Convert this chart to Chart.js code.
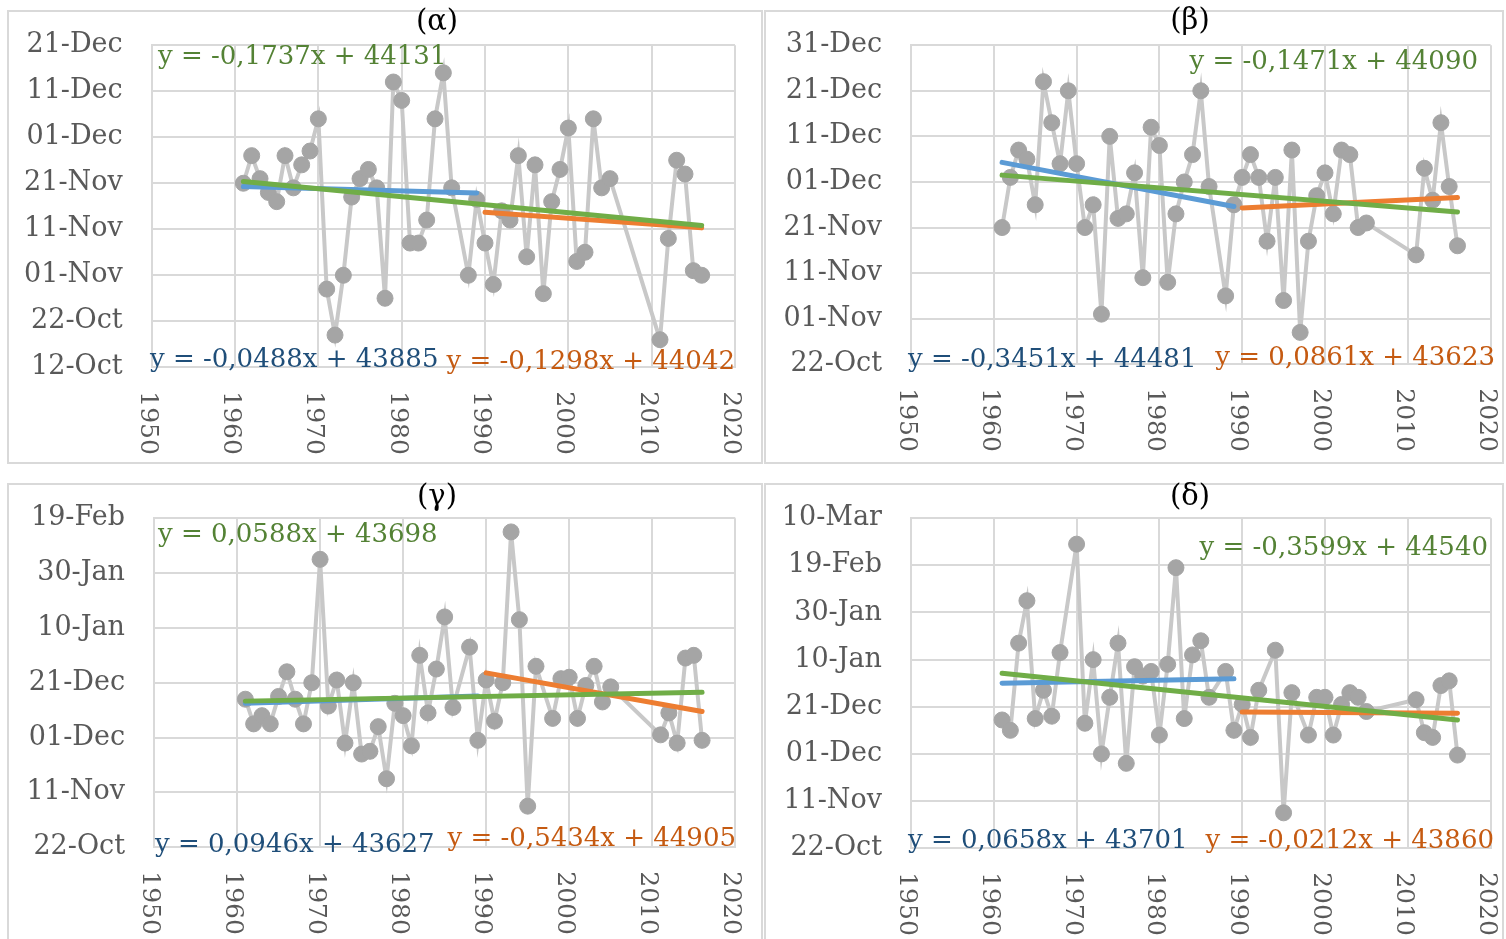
<!DOCTYPE html>
<html><head><meta charset="utf-8">
<script src="https://cdn.jsdelivr.net/npm/chart.js@4.4.1/dist/chart.umd.min.js"></script>
<style>
html,body{margin:0;padding:0;background:#fff;}
#page{position:relative;width:1506px;height:939px;overflow:hidden;background:#fff;}
.box{position:absolute;border:2px solid #d9d9d9;box-sizing:border-box;}
canvas{position:absolute;}
</style></head><body>
<div id="page">
 <div class="box" style="left:7px;top:10px;width:756px;height:454px"></div>
 <div class="box" style="left:764px;top:10px;width:740px;height:454px"></div>
 <div class="box" style="left:7px;top:483px;width:756px;height:470px"></div>
 <div class="box" style="left:764px;top:483px;width:740px;height:470px"></div>
 <canvas id="cA" width="754" height="463" style="left:8px;top:0px"></canvas>
 <canvas id="cB" width="738" height="463" style="left:765px;top:0px"></canvas>
 <canvas id="cC" width="754" height="466" style="left:8px;top:473px"></canvas>
 <canvas id="cD" width="738" height="466" style="left:765px;top:473px"></canvas>
</div>
<script>
// ---------- data ----------
const xTickLabels = ['1950','1960','1970','1980','1990','2000','2010','2020'];

const alphaYTicks = ['12-Oct','22-Oct','01-Nov','11-Nov','21-Nov','01-Dec','11-Dec','21-Dec'];
const betaYTicks  = ['22-Oct','01-Nov','11-Nov','21-Nov','01-Dec','11-Dec','21-Dec','31-Dec'];
const gammaYTicks = ['22-Oct','11-Nov','01-Dec','21-Dec','10-Jan','30-Jan','19-Feb'];
const deltaYTicks = ['22-Oct','11-Nov','01-Dec','21-Dec','10-Jan','30-Jan','19-Feb','10-Mar'];

const alphaYears = [1961,1962,1963,1964,1965,1966,1967,1968,1969,1970,1971,1972,1973,1974,1975,1976,1977,1978,1979,1980,1981,1982,1983,1984,1985,1986,1988,1989,1990,1991,1992,1993,1994,1995,1996,1997,1998,1999,2000,2001,2002,2003,2004,2005,2011,2012,2013,2014,2015,2016];
const alphaValues = [43790,43796,43791,43788,43786,43796,43789,43794,43797,43804,43767,43757,43770,43787,43791,43793,43789,43765,43812,43808,43777,43777,43782,43804,43814,43789,43770,43786.5,43777,43768,43784,43782,43796,43774,43794,43766,43786,43793,43802,43773,43775,43804,43789,43791,43756,43778,43795,43792,43771,43770];

const betaYears = [1961,1962,1963,1964,1965,1966,1967,1968,1969,1970,1971,1972,1973,1974,1975,1976,1977,1978,1979,1980,1981,1982,1983,1984,1985,1986,1988,1989,1990,1991,1992,1993,1994,1995,1996,1997,1998,1999,2000,2001,2002,2003,2004,2005,2011,2012,2013,2014,2015,2016];
const betaValues = [43790,43801,43807,43805,43795,43822,43813,43804,43820,43804,43790,43795,43771,43810,43792,43793,43802,43779,43812,43808,43778,43793,43800,43806,43820,43799,43775,43795,43801,43806,43801,43787,43801,43774,43807,43767,43787,43797,43802,43793,43807,43806,43790,43791,43784,43803,43796,43813,43799,43786];

const gammaYears = [1961,1962,1963,1964,1965,1966,1967,1968,1969,1970,1971,1972,1973,1974,1975,1976,1977,1978,1979,1980,1981,1982,1983,1984,1985,1986,1988,1989,1990,1991,1992,1993,1994,1995,1996,1998,1999,2000,2001,2002,2003,2004,2005,2011,2012,2013,2014,2015,2016];
const gammaValues = [43814,43805,43808,43805,43815,43824,43814,43805,43820,43865,43811.5,43821,43798,43820,43794,43795,43804,43785,43812.5,43808,43797,43830,43809,43825,43844,43811,43833,43799,43821,43806,43820,43875,43843,43775,43826,43807,43821.5,43822,43807,43819,43826,43813,43818.5,43801,43809,43798,43829,43830,43799];

const deltaYears = [1961,1962,1963,1964,1965,1966,1967,1968,1970,1971,1972,1973,1974,1975,1976,1977,1978,1979,1980,1981,1982,1983,1984,1985,1986,1988,1989,1990,1991,1992,1994,1995,1996,1998,1999,2000,2001,2002,2003,2004,2005,2011,2012,2013,2014,2015,2016];
const deltaValues = [43814.4,43810,43847,43865,43815,43827,43816,43843,43889,43813,43840,43800,43824,43847,43796,43837,43833,43835,43808,43838,43879,43815,43842,43848,43824,43835,43810,43821,43807,43827,43844,43775,43826,43808,43824,43824,43808,43821,43826,43824,43818,43823,43809,43807,43829,43831,43799.5];

// trend line end points (years and values, read from the trend equations shown)
const trendEarlyYears = [1961, 1989];
const trendLateYears  = [1990, 2016];
const trendAllYears   = [1961, 2016];
const alphaTrendEarly = [43789.3, 43787.9];
const alphaTrendLate  = [43783.7, 43780.3];
const alphaTrendAll   = [43790.4, 43780.8];
const betaTrendEarly  = [43804.3, 43794.6];
const betaTrendLate   = [43794.3, 43796.6];
const betaTrendAll    = [43801.5, 43793.4];
const gammaTrendEarly = [43812.5, 43815.2];
const gammaTrendLate  = [43823.6, 43809.5];
const gammaTrendAll   = [43813.3, 43816.5];
const deltaTrendEarly = [43830.0, 43831.9];
const deltaTrendLate  = [43817.8, 43817.3];
const deltaTrendAll   = [43834.2, 43814.4];

// ---------- styles ----------
const FONT = '"DejaVu Serif"';
const GRID = '#d9d9d9';
const C_GREEN = '#70ad47', C_BLUE = '#5b9bd5', C_ORANGE = '#ed7d31';
const T_GREEN = '#548235', T_BLUE = '#1f4e79', T_ORANGE = '#c55a11';

const pairs = (xs, ys) => xs.map((x, i) => ({x: x, y: ys[i]}));

function makeTextPlugin(o) {
  return {
    id: 'panelText',
    afterDraw(chart) {
      const ctx = chart.ctx;
      const xs = chart.scales.x;
      ctx.save();
      ctx.font = '25px ' + FONT;
      ctx.fillStyle = '#595959';
      ctx.textAlign = 'left';
      ctx.textBaseline = 'alphabetic';
      xs.ticks.forEach((t, i) => {
        const px = xs.getPixelForValue(t.value);
        ctx.save();
        ctx.translate(px - 11, chart.chartArea.bottom + 24);
        ctx.rotate(Math.PI / 2);
        ctx.fillText(xTickLabels[i], 0, 0);
        ctx.restore();
      });
      ctx.font = '29px ' + FONT;
      ctx.fillStyle = '#000';
      ctx.textAlign = 'center';
      ctx.textBaseline = 'middle';
      ctx.fillText(o.title, o.titleX, o.titleY);
      ctx.font = '26px ' + FONT;
      ctx.textBaseline = 'alphabetic';
      o.equations.forEach(e => {
        ctx.fillStyle = e.color;
        ctx.textAlign = e.align;
        ctx.fillText(e.text, e.x, e.y);
      });
      ctx.restore();
    }
  };
}

function makePanel(id, p) {
  const canvas = document.getElementById(id);
  const W = canvas.width, H = canvas.height;
  const trend = (xs, ys, color, order) => ({
    data: pairs(xs, ys), borderColor: color, backgroundColor: color, borderWidth: 5,
    pointRadius: 0, borderCapStyle: 'round', tension: 0, order: order
  });
  return new Chart(canvas, {
    type: 'line',
    data: {
      datasets: [
        trend(trendAllYears, p.trendAll, C_GREEN, 1),
        trend(trendLateYears, p.trendLate, C_ORANGE, 2),
        trend(trendEarlyYears, p.trendEarly, C_BLUE, 3),
        {
          data: pairs(p.years, p.values), borderColor: '#c8c8c8', borderWidth: 4,
          pointRadius: 8, pointBackgroundColor: '#a5a5a5', pointBorderColor: '#a5a5a5',
          pointBorderWidth: 1, tension: 0, order: 10
        }
      ]
    },
    options: {
      responsive: false, animation: false, events: [],
      layout: {padding: {left: 0, right: W - p.plot.right, top: p.plot.top, bottom: 0}},
      plugins: {legend: {display: false}, tooltip: {enabled: false}, title: {display: false}},
      scales: {
        x: {
          type: 'linear', min: 1950, max: 2020,
          ticks: {stepSize: 10, display: false},
          grid: {color: GRID, lineWidth: 2, drawTicks: false},
          border: {color: GRID, width: 2},
          afterFit: s => { s.height = H - p.plot.bottom; }
        },
        y: {
          type: 'linear', min: p.yMin, max: p.yMax,
          ticks: {
            stepSize: p.yStep, padding: 29, color: '#595959',
            font: {family: 'DejaVu Serif', size: 27},
            callback: (v, i) => p.yLabels[i]
          },
          grid: {color: GRID, lineWidth: 2, drawTicks: false},
          border: {color: GRID, width: 2},
          afterFit: s => { s.width = p.plot.left; }
        }
      }
    },
    plugins: [makeTextPlugin(p)]
  });
}

makePanel('cA', {
  years: alphaYears, values: alphaValues,
  trendEarly: alphaTrendEarly, trendLate: alphaTrendLate, trendAll: alphaTrendAll,
  yMin: 43750, yMax: 43820, yStep: 10, yLabels: alphaYTicks,
  plot: {left: 143.7, right: 727, top: 43.3, bottom: 367.3},
  title: '(α)', titleX: 429, titleY: 22,
  equations: [
    {text: 'y = -0,1737x + 44131', color: T_GREEN, align: 'left', x: 150, y: 64},
    {text: 'y = -0,0488x + 43885', color: T_BLUE, align: 'left', x: 142, y: 367},
    {text: 'y = -0,1298x + 44042', color: T_ORANGE, align: 'right', x: 727, y: 369}
  ]
});
makePanel('cB', {
  years: betaYears, values: betaValues,
  trendEarly: betaTrendEarly, trendLate: betaTrendLate, trendAll: betaTrendAll,
  yMin: 43760, yMax: 43830, yStep: 10, yLabels: betaYTicks,
  plot: {left: 146, right: 725.6, top: 42.3, bottom: 364.3},
  title: '(β)', titleX: 425, titleY: 21,
  equations: [
    {text: 'y = -0,1471x + 44090', color: T_GREEN, align: 'right', x: 713, y: 68.5},
    {text: 'y = -0,3451x + 44481', color: T_BLUE, align: 'left', x: 143, y: 366.5},
    {text: 'y = 0,0861x + 43623', color: T_ORANGE, align: 'right', x: 730, y: 364.5}
  ]
});
makePanel('cC', {
  years: gammaYears, values: gammaValues,
  trendEarly: gammaTrendEarly, trendLate: gammaTrendLate, trendAll: gammaTrendAll,
  yMin: 43760, yMax: 43880, yStep: 20, yLabels: gammaYTicks,
  plot: {left: 146, right: 727.3, top: 43.7, bottom: 374.3},
  title: '(γ)', titleX: 429, titleY: 24,
  equations: [
    {text: 'y = 0,0588x + 43698', color: T_GREEN, align: 'left', x: 150, y: 68.5},
    {text: 'y = 0,0946x + 43627', color: T_BLUE, align: 'left', x: 147, y: 378.5},
    {text: 'y = -0,5434x + 44905', color: T_ORANGE, align: 'right', x: 728, y: 372.5}
  ]
});
makePanel('cD', {
  years: deltaYears, values: deltaValues,
  trendEarly: deltaTrendEarly, trendLate: deltaTrendLate, trendAll: deltaTrendAll,
  yMin: 43760, yMax: 43900, yStep: 20, yLabels: deltaYTicks,
  plot: {left: 146, right: 725.6, top: 44.8, bottom: 375.2},
  title: '(δ)', titleX: 425, titleY: 24,
  equations: [
    {text: 'y = -0,3599x + 44540', color: T_GREEN, align: 'right', x: 723, y: 81.5},
    {text: 'y = 0,0658x + 43701', color: T_BLUE, align: 'left', x: 143, y: 374.5},
    {text: 'y = -0,0212x + 43860', color: T_ORANGE, align: 'right', x: 729, y: 374.5}
  ]
});
</script>
</body></html>
